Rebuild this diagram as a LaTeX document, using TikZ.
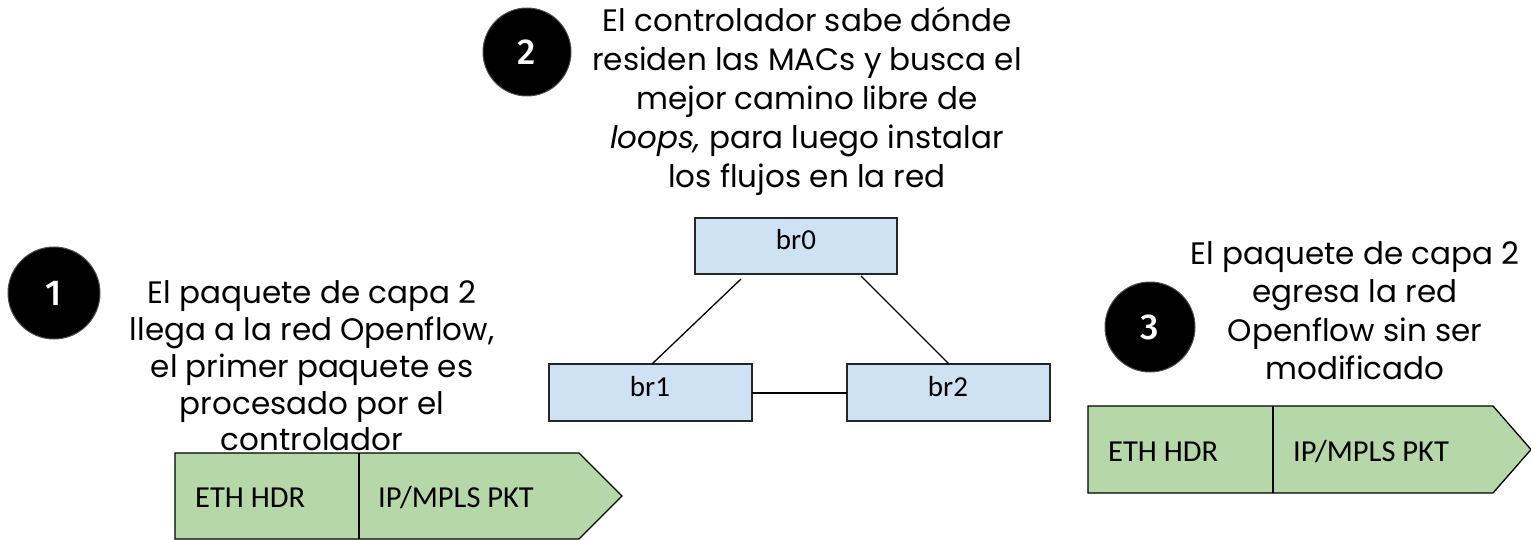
\documentclass[tikz,border=0pt]{standalone}
\usepackage{fontspec}
\setmainfont{Poppins}
\newfontfamily\boxfont{Carlito}
\newfontfamily\numfont{Fira Sans Medium}
\begin{document}
\begin{tikzpicture}[x=1pt,y=-1pt,
  numcirc/.style={circle,fill=black,draw=black!70,line width=1pt,minimum size=92pt,inner sep=0pt,text=white,font=\numfont\fontsize{36}{36}\selectfont},
  caption/.style={align=center,font=\fontsize{31}{38.5}\selectfont,inner sep=0pt},
  switchbox/.style={draw=black!85,line width=1.3pt,fill={rgb,255:red,207;green,226;blue,243}},
  swlabel/.style={font=\boxfont\fontsize{29}{29}\selectfont,inner sep=0pt},
  pkt/.style={draw=black,line width=1.3pt,fill={rgb,255:red,182;green,215;blue,168}},
  pktlabel/.style={font=\boxfont\fontsize{30.5}{30.5}\selectfont,inner sep=0pt,anchor=west},
  link/.style={draw=black,line width=1.3pt}]
\useasboundingbox (0,0) rectangle (1531,540);

% numbered circles
\node[numcirc] (n1) at (54,293) {1};
\node[numcirc,minimum size=88pt] (n2) at (527,52) {2};
\node[numcirc,minimum size=90pt] (n3) at (1150,327) {3};

% captions
\node[caption,font=\fontsize{31}{36.8}\selectfont] (t1) at (312,366) {El paquete de capa 2\\llega a la red Openflow,\\el primer paquete es\\procesado por el\\controlador};
\node[caption,font=\fontsize{31}{39}\selectfont] (t2) at (807,101) {El controlador sabe dónde\\residen las MACs y busca el\\mejor camino libre de\\\textit{loops,} para luego instalar\\los flujos en la red};
\node[caption] (t3) at (1355,310.5) {El paquete de capa 2\\egresa la red\\Openflow sin ser\\modificado};

% switches
\path[switchbox] (695,218) rectangle (897,274);
\path[switchbox] (549,364) rectangle (752,421);
\path[switchbox] (847,364) rectangle (1050,421);
\node[swlabel] (br0) at (796,240) {br0};
\node[swlabel] (br1) at (650,387) {br1};
\node[swlabel] (br2) at (948,387) {br2};
\coordinate (a0) at (741,279);
\coordinate (a1) at (652,364);
\coordinate (b0) at (861,276);
\coordinate (b2) at (949,364);
\coordinate (c1) at (752,393);
\coordinate (c2) at (847,393);
\draw[link] (a0) -- (a1);
\draw[link] (b0) -- (b2);
\draw[link] (c1) -- (c2);

% packet 1
\path[pkt] (175,453) -- (579,453) -- (622,496) -- (579,539) -- (175,539) -- cycle;
\draw[link] (359,453) -- (359,539);
\node[pktlabel] (p1a) at (195,498) {ETH HDR};
\node[pktlabel] (p1b) at (378,498) {IP/MPLS PKT};

% packet 3
\path[pkt] (1088,406) -- (1493,406) -- (1531,449.5) -- (1493,493) -- (1088,493) -- cycle;
\draw[link] (1273,406) -- (1273,493);
\node[pktlabel] (p3a) at (1108,452) {ETH HDR};
\node[pktlabel] (p3b) at (1293,452) {IP/MPLS PKT};
\end{tikzpicture}
\end{document}
